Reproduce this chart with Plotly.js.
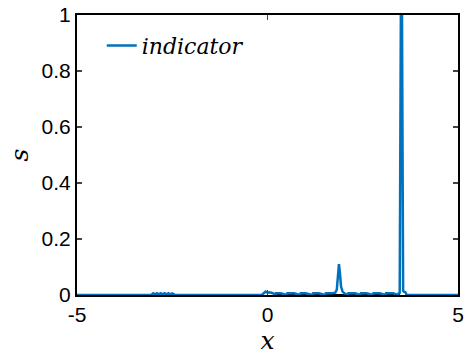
<!DOCTYPE html>
<html>
<head>
<meta charset="utf-8">
<script src="https://cdn.plot.ly/plotly-3.0.1.min.js"></script>
<style>html,body{margin:0;padding:0;background:#fff}#chart{width:468px;height:360px}</style>
</head>
<body>
<div id="chart"></div>
<script>
// indicator values
const xIndicator = [-5, -3.05, -3.0, -2.95, -2.9, -2.85, -2.8, -2.75, -2.7, -2.65, -2.6, -2.55, -2.5, -2.45, -2.42,
  -0.15, -0.1, -0.05, 0.0, 0.05, 0.1, 0.15, 0.2, 0.22, 0.35, 0.5, 0.52, 0.7, 0.85, 0.87, 1.0, 1.18, 1.2, 1.35, 1.51, 1.53, 1.7,
  1.78, 1.82, 1.85, 1.875, 1.9, 1.93, 1.97, 2.02, 2.1, 2.12, 2.3, 2.43, 2.45, 2.6, 2.76, 2.78, 2.95, 3.09, 3.11, 3.3, 3.42, 3.44,
  3.47, 3.5, 3.53, 3.56, 3.58, 3.62, 3.65, 5];
const sIndicator = [0, 0, 0.006, 0.002, 0.006, 0.002, 0.006, 0.002, 0.006, 0.002, 0.006, 0.002, 0.006, 0.004, 0,
  0, 0.008, 0.012, 0.008, 0.01, 0.008, 0.006, 0.0, 0.006, 0.006, 0.0, 0.006, 0.006, 0.0, 0.006, 0.006, 0.0, 0.006, 0.006, 0.0, 0.006, 0.006,
  0.008, 0.02, 0.07, 0.11, 0.08, 0.03, 0.012, 0.006, 0.0, 0.006, 0.006, 0.0, 0.006, 0.006, 0.0, 0.006, 0.006, 0.0, 0.006, 0.006, 0.0, 0.006,
  0.008, 1.0, 1.0, 0.015, 0.012, 0.01, 0, 0];
// reference (black) line at zero
const xRef = [0.2, 3.48];
const sRef = [0, 0];
const legendName = 'indicator';
const xTickVals = [-5, 0, 5];
const xTickText = ['-5', '0', '5'];
const yTickVals = [0, 0.2, 0.4, 0.6, 0.8, 1];
const yTickText = ['0', '0.2', '0.4', '0.6', '0.8', '1'];

const traces = [
  {x: xRef, y: sRef, mode: 'lines', line: {color: '#000000', width: 2, dash: 'solid'}, showlegend: false, hoverinfo: 'skip'},
  {x: xIndicator, y: sIndicator, mode: 'lines', name: legendName, line: {color: '#0072BD', width: 2.5}}
];
const serifItalic = {family: 'DejaVu Serif, Liberation Serif, serif', style: 'italic', color: '#000'};
const tickFont = {family: 'Liberation Sans, Arial, sans-serif', size: 21, color: '#000'};
const layout = {
  width: 468, height: 360,
  margin: {l: 77, r: 10, t: 15, b: 65},
  paper_bgcolor: '#fff', plot_bgcolor: '#fff',
  font: {family: 'Liberation Sans, Arial, sans-serif', size: 21, color: '#000'},
  xaxis: {range: [-5, 5], tickvals: xTickVals, ticktext: xTickText, ticks: 'inside', ticklen: 5, tickwidth: 1.5,
    tickfont: tickFont,
    showline: true, mirror: 'ticks', linecolor: '#000', linewidth: 2, showgrid: false, zeroline: false,
    title: {text: 'x', font: Object.assign({size: 25}, serifItalic), standoff: 6}},
  yaxis: {range: [0, 1], tickvals: yTickVals, ticktext: yTickText, ticks: 'inside', ticklen: 5, tickwidth: 1.5,
    tickfont: tickFont,
    showline: true, mirror: 'ticks', linecolor: '#000', linewidth: 2, showgrid: false, zeroline: false,
    title: {text: 's', font: Object.assign({size: 25}, serifItalic), standoff: 6}},
  legend: {x: 0.065, y: 0.89, xanchor: 'left', yanchor: 'middle', bgcolor: 'rgba(255,255,255,0)', borderwidth: 0,
    font: Object.assign({size: 22}, serifItalic), itemwidth: 30, tracegroupgap: 0},
  showlegend: true
};
Plotly.newPlot('chart', traces, layout, {displayModeBar: false, staticPlot: true});
</script>
</body>
</html>
